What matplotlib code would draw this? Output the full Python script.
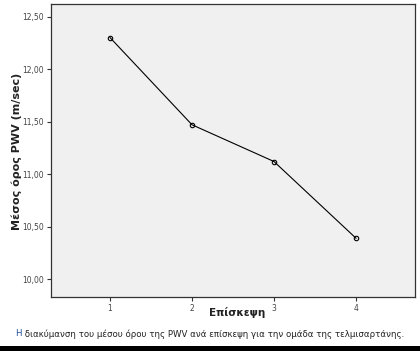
import matplotlib
matplotlib.use("Agg")
import matplotlib.pyplot as plt
from matplotlib.patches import Rectangle

visits = [1, 2, 3, 4]
pwv_means = [12.30, 11.47, 11.12, 10.39]
yticks = [10.00, 10.50, 11.00, 11.50, 12.00, 12.50]
ytick_labels = ["10,00", "10,50", "11,00", "11,50", "12,00", "12,50"]
xlabel = "Επίσκεψη"
ylabel = "Μέσος όρος PWV (m/sec)"
caption_first = "Η"
caption_rest = " διακύμανση του μέσου όρου της PWV ανά επίσκεψη για την ομάδα της τελμισαρτάνης."

W, H = 420, 351
fig = plt.figure(figsize=(W / 100, H / 100), dpi=100)
fig.patch.set_facecolor("white")

ax = fig.add_axes([51 / W, 1 - 297 / H, (415 - 51) / W, (297 - 4) / H])
ax.set_facecolor("#f0f0f0")
ax.plot(visits, pwv_means, color="black", lw=0.8, marker="o", ms=3.2,
        mfc="none", mec="black", mew=0.8)
ax.set_xlim(0.28, 4.72)
ax.set_ylim(9.83, 12.62)
ax.set_yticks(yticks)
ax.set_yticklabels(ytick_labels, fontsize=5.5, color="#444444")
ax.set_xticks(visits)
ax.set_xticklabels([str(v) for v in visits], fontsize=5.5, color="#444444")
ax.tick_params(axis="both", length=3, width=0.8, color="#333333", pad=2)
for s in ax.spines.values():
    s.set_color("#333333")
    s.set_linewidth(0.9)

fig.text(17 / W, 1 - 151 / H, ylabel, rotation=90, ha="center", va="center",
         fontsize=8, fontweight="bold", color="#222222")
fig.text(237 / W, 1 - 313 / H, xlabel, ha="center", va="center",
         fontsize=7.5, fontweight="bold", color="#222222")

t1 = fig.text(15 / W, 1 - 334 / H, caption_first, ha="left", va="center",
              fontsize=6.2, color="#1f4e9a")
fig.canvas.draw()
bb = t1.get_window_extent()
fig.text(bb.x1 / W, 1 - 334 / H, caption_rest, ha="left", va="center",
         fontsize=6.2, color="#222222")

fig.patches.append(Rectangle((0, 0), 1, 5 / H, transform=fig.transFigure,
                             facecolor="black", edgecolor="none"))

fig.savefig("out.png", dpi=100)
